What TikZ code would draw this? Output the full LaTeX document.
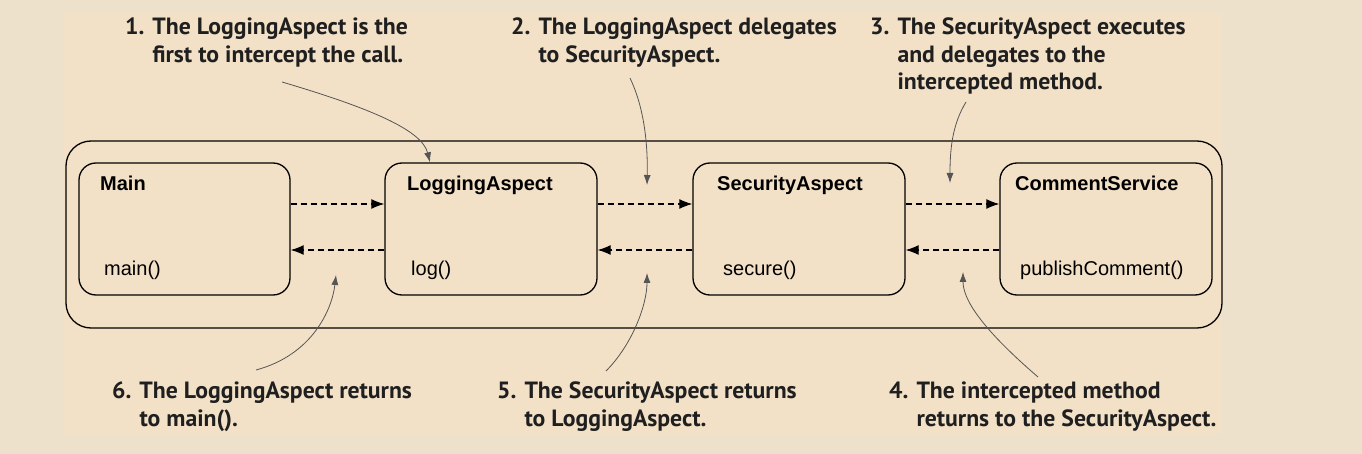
\documentclass[tikz,border=0pt]{standalone}
\usepackage{fontspec}
\newfontfamily\boxfont{Liberation Sans}
\newfontfamily\calloutfont{PT Sans}[FakeStretch=1.01]
\usetikzlibrary{arrows.meta, calc}
\definecolor{pagebg}{RGB}{238,225,203}
\definecolor{panelbg}{RGB}{242,225,199}
\definecolor{pointergray}{RGB}{85,85,85}
\tikzset{
  classbox/.style={draw, line width=1.3pt, rounded corners=17pt, minimum width=212pt, minimum height=132pt, inner sep=0pt},
  boxtitle/.style={anchor=base west, inner sep=0pt, font=\boxfont\bfseries\fontsize{20}{22}\selectfont},
  boxmethod/.style={anchor=base west, inner sep=0pt, font=\boxfont\fontsize{20}{22}\selectfont},
  callout/.style={anchor=north west, inner sep=0pt, align=left, text=black!88, font=\calloutfont\bfseries\fontsize{23.5}{27.5}\selectfont},
  flow/.style={dash pattern=on 6pt off 4pt, line width=1.2pt, -{Latex[length=13pt,width=10pt]}},
  pointer/.style={pointergray, line width=0.8pt, -{Latex[length=10pt,width=7pt]}},
}
\begin{document}
\begin{tikzpicture}[x=1pt,y=-1pt]
% Background
\fill[pagebg] (0,0) rectangle (1362,454);
\fill[panelbg] (64,13) rectangle (1222,434);
\useasboundingbox (0,0) rectangle (1362,454);
% Outer frame
\draw[line width=1.3pt, rounded corners=25pt] (66,141) rectangle (1222,328);
% Boxes
\node[classbox, minimum width=211pt] (main) at (184.5,229) {};
\node[classbox] (log) at (491,229) {};
\node[classbox] (sec) at (799,229) {};
\node[classbox] (com) at (1106,229) {};
% Box texts
\node[boxtitle] (mainname) at (100,191) {Main};
\node[boxtitle] (logname) at (407,191) {LoggingAspect};
\node[boxtitle] (secname) at (717,191) {SecurityAspect};
\node[boxtitle] (comname) at (1015,191) {CommentService};
\node[boxmethod] (mainop) at (104,276) {main()};
\node[boxmethod] (logop) at (411,276) {log()};
\node[boxmethod] (secop) at (723,276) {secure()};
\node[boxmethod] (comop) at (1020,276) {publishComment()};
% Calls and returns
\foreach \a/\b in {main/log, log/sec, sec/com} {
  \draw[flow] ([yshift=25pt]\a.east) -- ([yshift=25pt]\b.west);
  \draw[flow] ([yshift=-21pt]\b.west) -- ([yshift=-21pt]\a.east);
}
% Callouts
\node[callout] (c1) at (125,18) {1. The LoggingAspect is the\\\phantom{1. }first to intercept the call.};
\node[callout] (c2) at (511,18) {2. The LoggingAspect delegates\\\phantom{2. }to SecurityAspect.};
\node[callout] (c3) at (870,18) {3. The SecurityAspect executes\\\phantom{3. }and delegates to the\\\phantom{3. }intercepted method.};
\node[callout] (c6) at (112,382) {6. The LoggingAspect returns\\\phantom{6. }to main().};
\node[callout] (c5) at (497,382) {5. The SecurityAspect returns\\\phantom{5. }to LoggingAspect.};
\node[callout] (c4) at (889,382) {4. The intercepted method\\\phantom{4. }returns to the SecurityAspect.};
% Pointer ends
\coordinate (p1) at (282,82);
\coordinate (p2) at (630,78);
\coordinate (p3) at (966,102);
\coordinate (p4) at (1038,377);
\coordinate (p5) at (606,371);
\coordinate (p6) at (256,370);
\coordinate (t2) at (647,185);
\coordinate (t3) at (950,183);
\coordinate (t4) at (963,272);
\coordinate (t5) at (647,273);
\coordinate (t6) at (336,275);
% Pointers
\draw[pointer] (p1) .. controls (370,108) and (422,130) .. ([xshift=-61pt]log.north);
\draw[pointer] (p2) .. controls (643,105) and (648,140) .. (t2);
\draw[pointer] (p3) .. controls (952,125) and (950,150) .. (t3);
\draw[pointer] (p4) .. controls (995,340) and (963,305) .. (t4);
\draw[pointer] (p5) .. controls (632,345) and (647,305) .. (t5);
\draw[pointer] (p6) .. controls (312,355) and (332,310) .. (t6);
\end{tikzpicture}
\end{document}
